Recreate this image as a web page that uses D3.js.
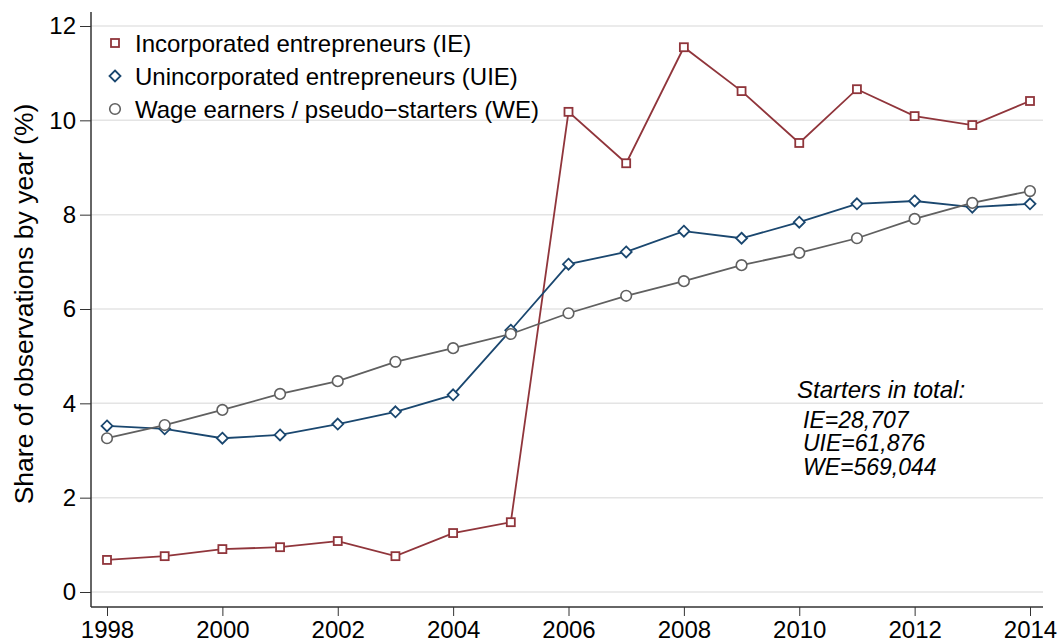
<!DOCTYPE html>
<html>
<head>
<meta charset="utf-8">
<script src="https://cdn.jsdelivr.net/npm/d3@7"></script>
<style>
  body { margin: 0; background: #fff; }
  text { font-family: "Liberation Sans", Arial, Helvetica, sans-serif; }
</style>
</head>
<body>
<script>
// data
var years = [1998,1999,2000,2001,2002,2003,2004,2005,2006,2007,2008,2009,2010,2011,2012,2013,2014];
var ieValues  = [0.68,0.76,0.91,0.95,1.08,0.76,1.25,1.48,10.18,9.09,11.55,10.62,9.52,10.66,10.09,9.90,10.41];
var uieValues = [3.52,3.46,3.26,3.33,3.56,3.82,4.18,5.55,6.95,7.21,7.65,7.50,7.84,8.23,8.29,8.16,8.23];
var weValues  = [3.26,3.54,3.86,4.20,4.47,4.88,5.17,5.47,5.91,6.28,6.59,6.93,7.19,7.50,7.91,8.25,8.50];
var seriesNames = ["Incorporated entrepreneurs (IE)", "Unincorporated entrepreneurs (UIE)", "Wage earners / pseudo\u2212starters (WE)"];
var xTicks = [1998,2000,2002,2004,2006,2008,2010,2012,2014];
var yTicks = [0,2,4,6,8,10,12];
var noteLines = ["IE=28,707", "UIE=61,876", "WE=569,044"];

var w = 1061, h = 643;
var left = 91, right = 1043, bottom = 607;

var x = d3.scaleLinear().domain([1998, 2014]).range([107, 1030]);
var y = d3.scaleLinear().domain([0, 12]).range([592, 26]);

var svg = d3.select("body").append("svg").attr("width", w).attr("height", h);

// gridlines
svg.append("g").selectAll("line").data(yTicks).enter().append("line")
  .attr("x1", left).attr("x2", right)
  .attr("y1", function(d) { return y(d); }).attr("y2", function(d) { return y(d); })
  .attr("stroke", "#e4e4e4").attr("stroke-width", 1.5);

// y axis
var yAxis = svg.append("g").attr("transform", "translate(" + left + ",0)")
  .call(d3.axisLeft(y).tickValues(yTicks).tickSize(11).tickPadding(4));
yAxis.select(".domain").attr("d", "M0,12V" + bottom).attr("stroke", "#333").attr("stroke-width", 1.5);
yAxis.selectAll(".tick line").attr("stroke", "#333");
yAxis.selectAll("text").attr("font-size", 24).attr("fill", "#000")
  .attr("font-family", "'Liberation Sans', Arial, sans-serif");

// x axis
var xAxis = svg.append("g").attr("transform", "translate(0," + bottom + ")")
  .call(d3.axisBottom(x).tickValues(xTicks).tickFormat(d3.format("d")).tickSize(9).tickPadding(5));
xAxis.select(".domain").attr("d", "M" + left + ",0H" + right).attr("stroke", "#333").attr("stroke-width", 1.5);
xAxis.selectAll(".tick line").attr("stroke", "#333");
xAxis.selectAll("text").attr("font-size", 24).attr("fill", "#000")
  .attr("font-family", "'Liberation Sans', Arial, sans-serif");

// y title
svg.append("text")
  .attr("transform", "translate(33,304) rotate(-90)")
  .attr("text-anchor", "middle")
  .attr("font-size", 26.5)
  .text("Share of observations by year (%)");

var colors = ["#90353b", "#1a476f", "#606060"];
var all = [ieValues, uieValues, weValues];

var line = d3.line()
  .x(function(d, i) { return x(years[i]); })
  .y(function(d) { return y(d); });

all.forEach(function(vals, k) {
  svg.append("path").datum(vals)
    .attr("d", line).attr("fill", "none")
    .attr("stroke", colors[k]).attr("stroke-width", 1.8);
});

function marker(g, k, cx, cy) {
  if (k === 0) {
    g.append("rect").attr("x", cx - 4).attr("y", cy - 4).attr("width", 8).attr("height", 8)
      .attr("fill", "#fff").attr("stroke", colors[0]).attr("stroke-width", 1.8);
  } else if (k === 1) {
    g.append("path").attr("d", "M" + cx + "," + (cy - 5.5) + "L" + (cx + 5.5) + "," + cy + "L" + cx + "," + (cy + 5.5) + "L" + (cx - 5.5) + "," + cy + "Z")
      .attr("fill", "#fff").attr("stroke", colors[1]).attr("stroke-width", 1.8);
  } else {
    g.append("circle").attr("cx", cx).attr("cy", cy).attr("r", 5.3)
      .attr("fill", "#fff").attr("stroke", colors[2]).attr("stroke-width", 1.6);
  }
}

all.forEach(function(vals, k) {
  var g = svg.append("g");
  vals.forEach(function(v, i) { marker(g, k, x(years[i]), y(v)); });
});

// legend
var legY = [43, 76, 109];
seriesNames.forEach(function(name, k) {
  var g = svg.append("g");
  marker(g, k, 115, legY[k]);
  g.append("text").attr("x", 135).attr("y", legY[k] + 9)
    .attr("font-size", 24).text(name);
});

// note
var note = svg.append("g").attr("font-style", "italic");
note.append("text").attr("x", 797).attr("y", 398).attr("font-size", 24).text("Starters in total:");
note.selectAll(".nl").data(noteLines).enter().append("text").attr("class", "nl")
  .attr("x", 803).attr("font-size", 23)
  .attr("y", function(d, i) { return 427.5 + i * 23.5; })
  .text(function(d) { return d; });
</script>
</body>
</html>
